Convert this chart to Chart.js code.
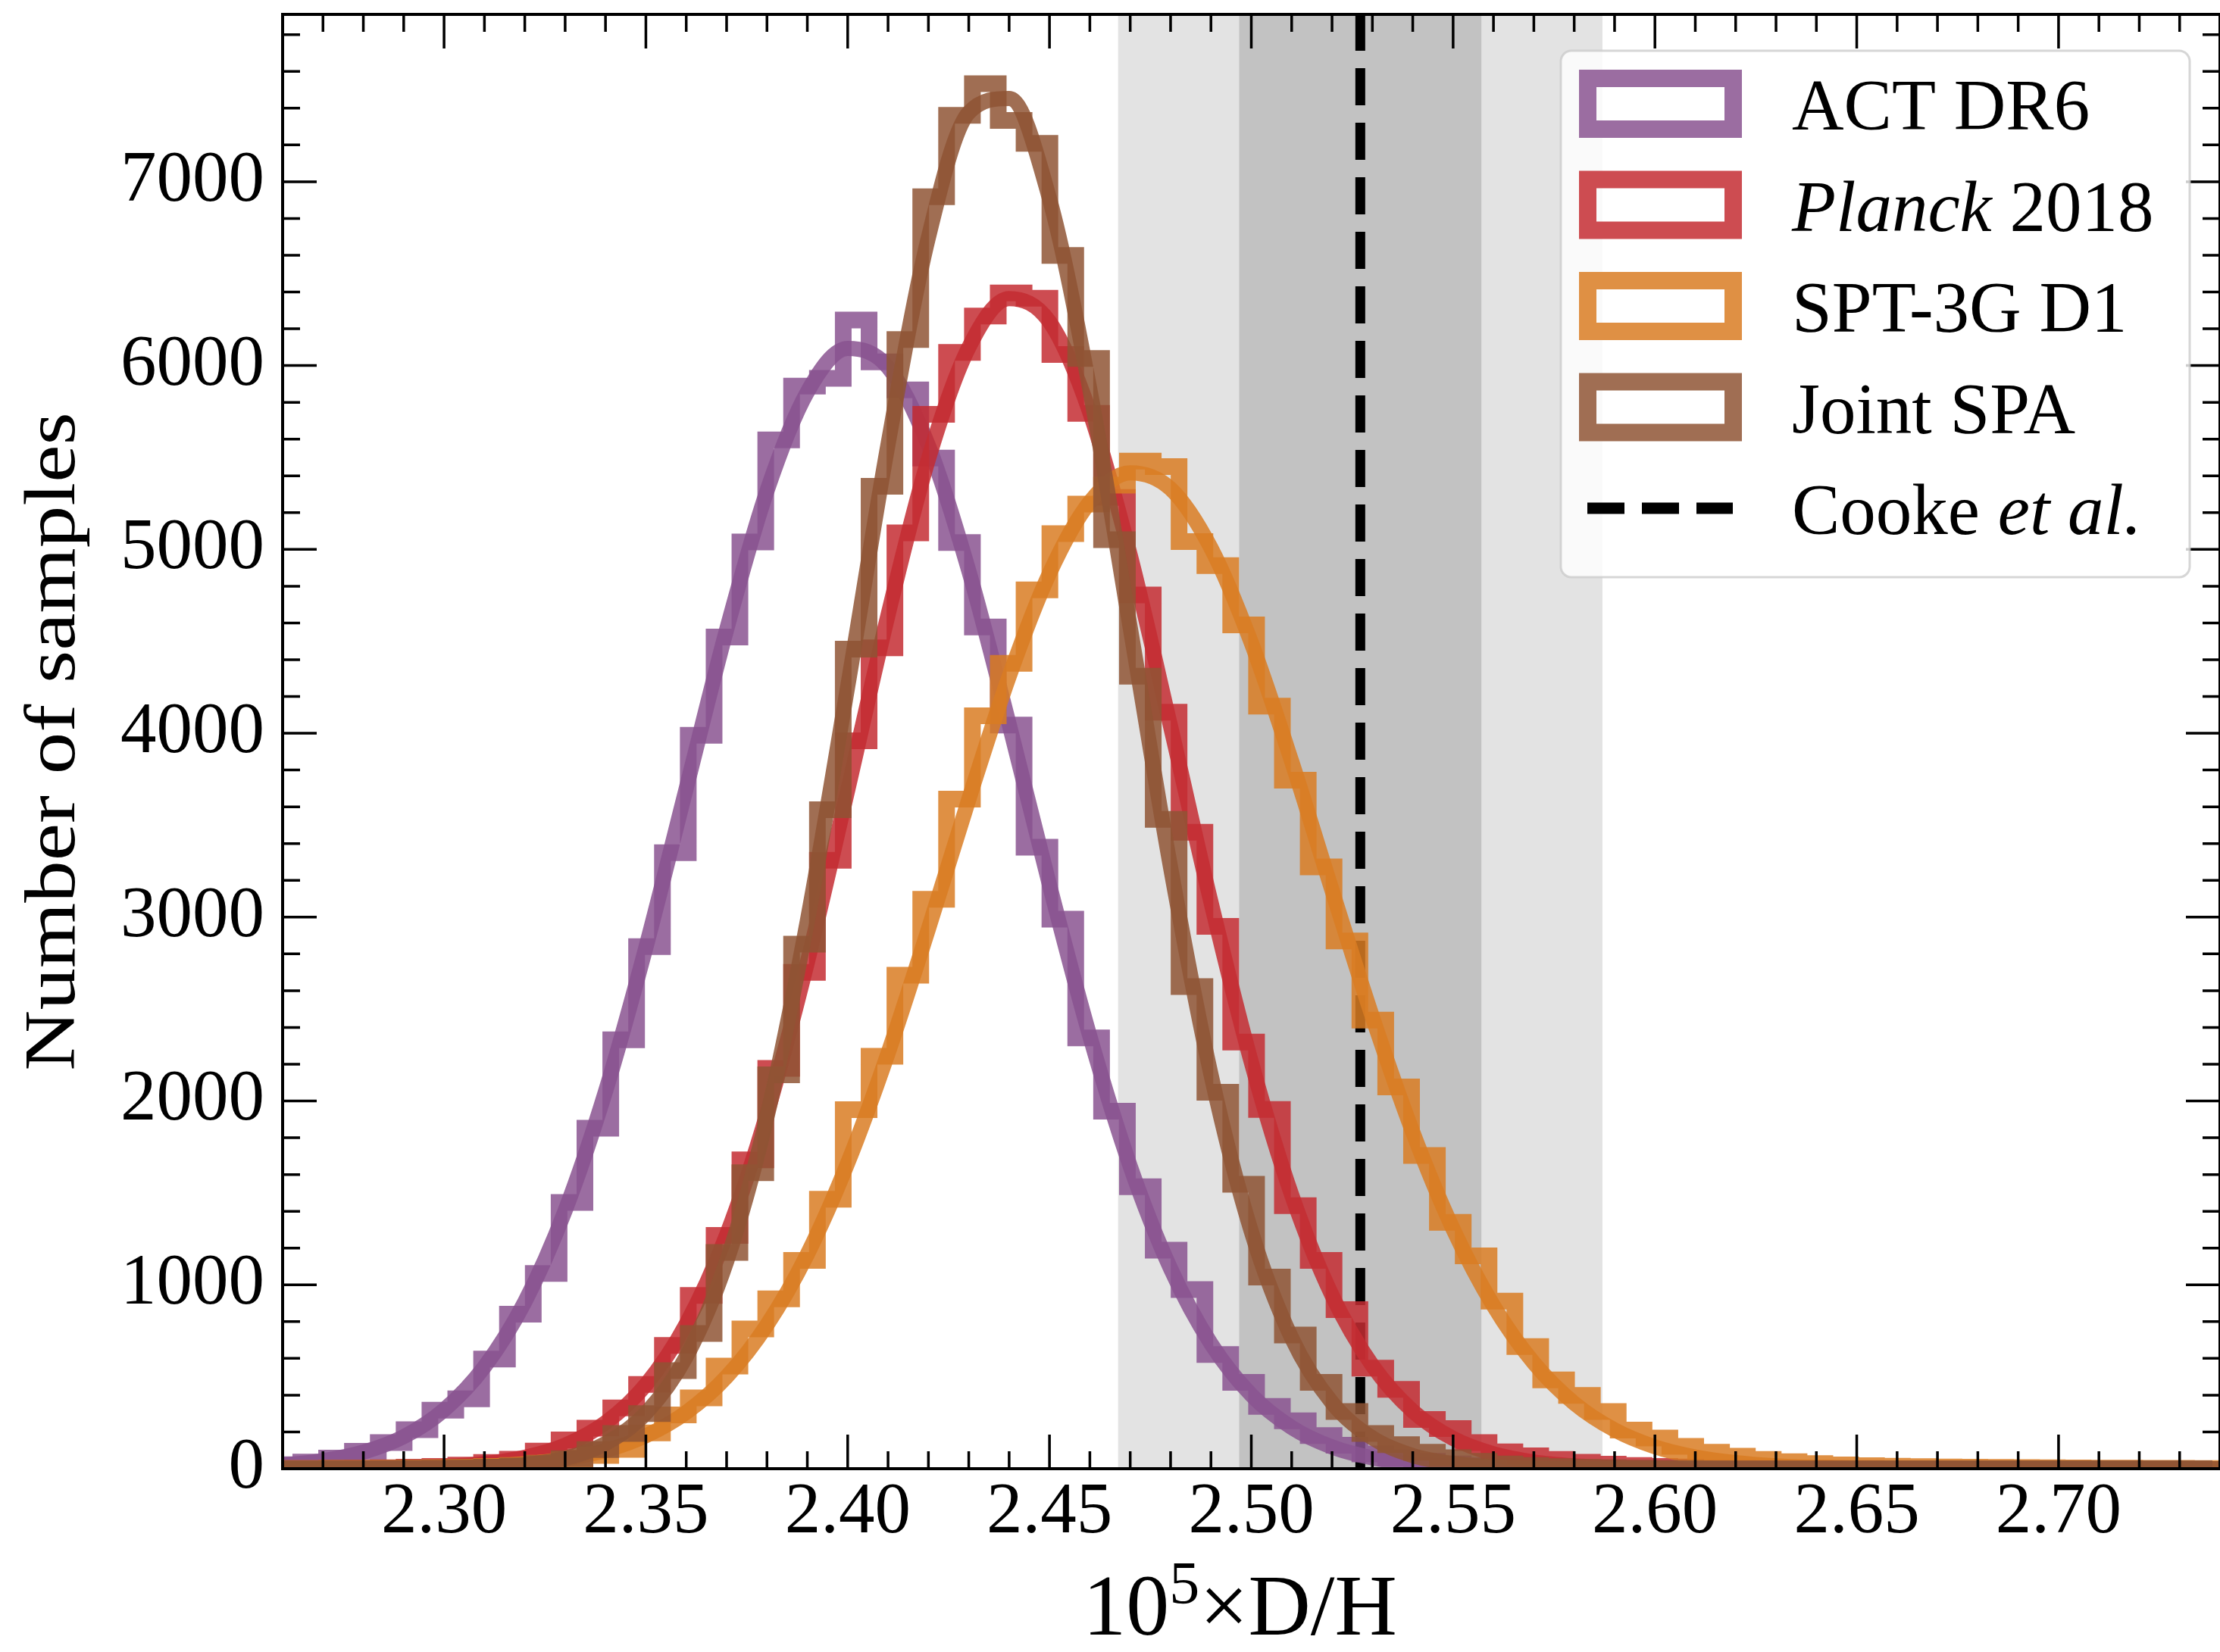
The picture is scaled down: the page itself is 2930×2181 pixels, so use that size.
<!DOCTYPE html>
<html>
<head>
<meta charset="utf-8">
<script src="https://cdn.jsdelivr.net/npm/chart.js@4.4.1/dist/chart.umd.min.js"></script>
<style>
  html, body { margin: 0; padding: 0; background: #fff; }
  #wrap { width: 2930px; height: 2181px; position: relative; }
</style>
</head>
<body>
<div id="wrap"><canvas id="dh"></canvas></div>
<script>
// D/H posteriors, step histograms (all chains share the same bins)
var binStart = 2.2581;
var binWidth = 0.0064;

var actCounts = [22, 36, 58, 95, 142, 212, 318, 380, 596, 840, 1062, 1448, 1852, 2333, 2840, 3350, 3989, 4524, 5041, 5596,
  5888, 5930, 6248, 6020, 5868, 5497, 5037, 4578, 4045, 3380, 2989, 2343, 1945, 1534, 1189, 974, 621, 470, 339, 261,
  180, 128, 80, 58, 40, 26, 16, 10, 7, 4, 3, 2, 1, 1, 1, 0, 0, 0, 0, 0,
  0, 0, 0, 0, 0, 0, 0, 0, 0, 0, 0, 0, 0, 0, 0];
var planckCounts = [1, 1, 2, 3, 5, 8, 12, 20, 34, 52, 96, 157, 220, 331, 458, 671, 942, 1269, 1680, 2177,
  2700, 3309, 3959, 4465, 5090, 5735, 6072, 6269, 6395, 6366, 6060, 5740, 5283, 4752, 4115, 3462, 2950, 2320, 1954, 1431,
  1133, 865, 547, 432, 268, 218, 142, 92, 70, 50, 35, 25, 18, 12, 9, 6, 4, 3, 2, 2,
  1, 1, 0, 0, 0, 0, 0, 0, 0, 0, 0, 0, 0, 0, 0];
var sptCounts = [1, 1, 2, 2, 3, 4, 6, 8, 12, 18, 30, 48, 72, 105, 195, 292, 385, 558, 760, 924,
  1133, 1466, 1953, 2243, 2684, 3097, 3642, 4095, 4380, 4780, 5086, 5247, 5350, 5480, 5450, 5043, 4912, 4589, 4148, 3745,
  3273, 2870, 2440, 2076, 1704, 1340, 1158, 911, 664, 483, 399, 311, 210, 167, 122, 90, 68, 50, 38, 28,
  21, 16, 13, 11, 9, 8, 7, 6, 5, 4, 3, 3, 2, 2, 1];
var jointCounts = [0, 0, 1, 1, 1, 2, 3, 5, 8, 14, 28, 55, 104, 192, 300, 533, 735, 1176, 1610, 2142,
  2853, 3584, 4458, 5343, 6142, 6918, 7361, 7533, 7333, 7209, 6599, 6039, 5053, 4310, 3532, 2622, 2048, 1547, 1042, 727,
  470, 311, 192, 131, 90, 60, 40, 26, 17, 11, 7, 5, 3, 2, 1, 0, 0, 0, 0, 0,
  0, 0, 0, 0, 0, 0, 0, 0, 0, 0, 0, 0, 0, 0, 0];

// smooth curves drawn over each histogram
var curveX = [2.26, 2.27, 2.28, 2.29, 2.30, 2.31, 2.32, 2.33, 2.34, 2.35, 2.36, 2.37, 2.38, 2.39, 2.40, 2.41, 2.42,
  2.43, 2.44, 2.45, 2.46, 2.47, 2.48, 2.49, 2.50, 2.51, 2.52, 2.53, 2.54, 2.55, 2.56, 2.57, 2.58, 2.59, 2.60, 2.61,
  2.62, 2.63, 2.64, 2.65, 2.66, 2.67, 2.68, 2.69, 2.70, 2.71, 2.72, 2.73, 2.74];
var actCurve = [20, 44, 90, 174, 320, 554, 907, 1404, 2052, 2835, 3700, 4563, 5318, 5856, 6093, 5991, 5565,
  4884, 4050, 3175, 2352, 1645, 1088, 680, 401, 224, 118, 59, 28, 12, 5, 2, 1, 0, 0, 0,
  0, 0, 0, 0, 0, 0, 0, 0, 0, 0, 0, 0, 0];
var planckCurve = [0, 1, 2, 5, 12, 28, 62, 128, 250, 457, 787, 1272, 1931, 2754, 3690, 4644, 5491,
  6098, 6364, 6238, 5744, 4968, 4037, 3082, 2211, 1489, 942, 561, 313, 164, 81, 37, 16, 7, 3, 1,
  0, 0, 0, 0, 0, 0, 0, 0, 0, 0, 0, 0, 0];
var sptCurve = [0, 1, 1, 3, 6, 13, 27, 53, 99, 179, 306, 500, 782, 1166, 1662, 2260, 2935,
  3640, 4309, 4870, 5258, 5417, 5330, 5008, 4492, 3847, 3146, 2457, 1831, 1303, 886, 575, 356, 211, 119, 64,
  33, 16, 8, 4, 2, 1, 0, 0, 0, 0, 0, 0, 0];
var jointCurve = [0, 0, 0, 1, 2, 8, 22, 57, 137, 302, 609, 1127, 1913, 2979, 4254, 5572, 6697,
  7376, 7453, 6907, 5870, 4575, 3270, 2145, 1290, 711, 359, 167, 71, 28, 10, 3, 1, 0, 0, 0,
  0, 0, 0, 0, 0, 0, 0, 0, 0, 0, 0, 0, 0];

var xTicks = [2.30, 2.35, 2.40, 2.45, 2.50, 2.55, 2.60, 2.65, 2.70];
var yTicks = [0, 1000, 2000, 3000, 4000, 5000, 6000, 7000];

// Cooke et al. measurement, 1 and 2 sigma bands
var cookeMean = 2.527;
var cookeSigma = 0.030;

var xMin = 2.26, xMax = 2.74, yMax = 7910;

var colAct = 'rgba(137, 84, 145, 0.85)';
var colPlanck = 'rgba(196, 45, 51, 0.85)';
var colSpt = 'rgba(217, 124, 35, 0.85)';
var colJoint = 'rgba(143, 85, 53, 0.85)';

var FONT = '"Liberation Serif", "DejaVu Serif", serif';

function stepPoints(counts) {
  var pts = [{x: binStart, y: 0}];
  counts.forEach(function (c, k) { pts.push({x: binStart + k * binWidth, y: c}); });
  pts.push({x: binStart + counts.length * binWidth, y: 0});
  return pts;
}

function curvePoints(vals) {
  return curveX.map(function (x, i) { return {x: x, y: vals[i]}; });
}

function stepSet(label, counts, color, order) {
  return {
    label: label, data: stepPoints(counts), borderColor: color, borderWidth: 22,
    stepped: true, pointRadius: 0, fill: false, borderJoinStyle: 'miter', borderCapStyle: 'butt',
    clip: 0, order: order
  };
}

function curveSet(label, vals, color, order) {
  return {
    label: label, data: curvePoints(vals), borderColor: color, borderWidth: 20,
    cubicInterpolationMode: 'monotone', pointRadius: 0, fill: false, clip: 0, order: order
  };
}

var legendRows = [
  {color: colAct, parts: [['ACT DR6', false]]},
  {color: colPlanck, parts: [['Planck', true], [' 2018', false]]},
  {color: colSpt, parts: [['SPT-3G D1', false]]},
  {color: colJoint, parts: [['Joint SPA', false]]},
  {dashed: true, parts: [['Cooke ', false], ['et al.', true]]}
];

function roundRectPath(ctx, x, y, w, h, r) {
  ctx.beginPath();
  ctx.moveTo(x + r, y);
  ctx.lineTo(x + w - r, y);
  ctx.arcTo(x + w, y, x + w, y + r, r);
  ctx.lineTo(x + w, y + h - r);
  ctx.arcTo(x + w, y + h, x + w - r, y + h, r);
  ctx.lineTo(x + r, y + h);
  ctx.arcTo(x, y + h, x, y + h - r, r);
  ctx.lineTo(x, y + r);
  ctx.arcTo(x, y, x + r, y, r);
  ctx.closePath();
}

var decorations = {
  id: 'decorations',
  beforeDatasetsDraw: function (chart) {
    var ctx = chart.ctx, a = chart.chartArea, xs = chart.scales.x;
    ctx.save();
    ctx.beginPath();
    ctx.rect(a.left, a.top, a.right - a.left, a.bottom - a.top);
    ctx.clip();
    var l2 = xs.getPixelForValue(cookeMean - 2 * cookeSigma);
    var r2 = xs.getPixelForValue(cookeMean + 2 * cookeSigma);
    ctx.fillStyle = '#e3e3e3';
    ctx.fillRect(l2, a.top, r2 - l2, a.bottom - a.top);
    var l1 = xs.getPixelForValue(cookeMean - cookeSigma);
    var r1 = xs.getPixelForValue(cookeMean + cookeSigma);
    ctx.fillStyle = '#c2c2c2';
    ctx.fillRect(l1, a.top, r1 - l1, a.bottom - a.top);
    ctx.restore();
  },
  afterDatasetsDraw: function (chart) {
    var ctx = chart.ctx, a = chart.chartArea, xs = chart.scales.x, ys = chart.scales.y;
    ctx.save();
    ctx.strokeStyle = '#000';
    ctx.lineWidth = 3.5;
    ctx.beginPath();
    for (var i = 226; i <= 274; i++) {
      var px = xs.getPixelForValue(i / 100);
      var len = (i % 5 === 0) ? 45 : 23;
      ctx.moveTo(px, a.bottom); ctx.lineTo(px, a.bottom - len);
      ctx.moveTo(px, a.top); ctx.lineTo(px, a.top + len);
    }
    for (var j = 0; j <= 7800; j += 200) {
      var py = ys.getPixelForValue(j);
      var ln = (j % 1000 === 0) ? 45 : 23;
      ctx.moveTo(a.left, py); ctx.lineTo(a.left + ln, py);
      ctx.moveTo(a.right, py); ctx.lineTo(a.right - ln, py);
    }
    ctx.stroke();
    ctx.lineWidth = 4;
    ctx.strokeRect(a.left, a.top, a.right - a.left, a.bottom - a.top);
    ctx.restore();
  },
  afterDraw: function (chart) {
    var ctx = chart.ctx, a = chart.chartArea;
    ctx.save();

    // legend
    roundRectPath(ctx, 2060, 67, 830, 695, 14);
    ctx.fillStyle = 'rgba(255,255,255,0.8)';
    ctx.fill();
    ctx.strokeStyle = 'rgba(204,204,204,0.8)';
    ctx.lineWidth = 3;
    ctx.stroke();

    legendRows.forEach(function (row, i) {
      var cy = 137 + i * 133.5;
      if (row.dashed) {
        ctx.save();
        ctx.strokeStyle = '#000';
        ctx.lineWidth = 15;
        ctx.setLineDash([49, 23]);
        ctx.beginPath();
        ctx.moveTo(2095, cy);
        ctx.lineTo(2287, cy);
        ctx.stroke();
        ctx.restore();
      } else {
        ctx.strokeStyle = row.color;
        ctx.lineWidth = 23;
        ctx.lineJoin = 'miter';
        ctx.strokeRect(2095.5, cy - 33.5, 192, 67);
      }
      var tx = 2365;
      ctx.fillStyle = '#000';
      ctx.textBaseline = 'alphabetic';
      ctx.textAlign = 'left';
      row.parts.forEach(function (p) {
        ctx.font = (p[1] ? 'italic ' : '') + '95px ' + FONT;
        ctx.fillText(p[0], tx, cy + 34);
        tx += ctx.measureText(p[0]).width;
      });
    });

    // x title: 10^5 x D/H
    ctx.fillStyle = '#000';
    ctx.textBaseline = 'alphabetic';
    ctx.textAlign = 'left';
    var big = '114px ' + FONT, small = '80px ' + FONT;
    ctx.font = big;
    var w1 = ctx.measureText('10').width, w3 = ctx.measureText('\u00d7D/H').width;
    ctx.font = small;
    var w2 = ctx.measureText('5').width;
    var x0 = (a.left + Math.min(a.right, chart.width)) / 2 - (w1 + w2 + w3) / 2 - 15;
    ctx.font = big;
    ctx.fillText('10', x0, 2158);
    ctx.font = small;
    ctx.fillText('5', x0 + w1, 2117);
    ctx.font = big;
    ctx.fillText('\u00d7D/H', x0 + w1 + w2, 2158);

    // y title
    ctx.save();
    ctx.translate(98, (a.top + a.bottom) / 2);
    ctx.rotate(-Math.PI / 2);
    ctx.scale(1, 0.85);
    ctx.font = '111px ' + FONT;
    ctx.textAlign = 'center';
    ctx.fillText('Number of samples', 0, 0);
    ctx.restore();

    ctx.restore();
  }
};

var ctx = document.getElementById('dh').getContext('2d');
var myChart = new Chart(ctx, {
  type: 'line',
  data: {
    datasets: [
      {
        label: 'Cooke et al.', data: [{x: cookeMean, y: 0}, {x: cookeMean, y: yMax}],
        borderColor: '#000', borderWidth: 13, borderDash: [49, 23], pointRadius: 0, fill: false,
        clip: 0, order: 20
      },
      stepSet('ACT DR6', actCounts, colAct, 8),
      curveSet('ACT DR6 fit', actCurve, colAct, 7),
      stepSet('Planck 2018', planckCounts, colPlanck, 6),
      curveSet('Planck 2018 fit', planckCurve, colPlanck, 5),
      stepSet('SPT-3G D1', sptCounts, colSpt, 4),
      curveSet('SPT-3G D1 fit', sptCurve, colSpt, 3),
      stepSet('Joint SPA', jointCounts, colJoint, 2),
      curveSet('Joint SPA fit', jointCurve, colJoint, 1)
    ]
  },
  options: {
    responsive: true,
    maintainAspectRatio: false,
    devicePixelRatio: 1,
    animation: false,
    events: [],
    layout: { padding: { top: 19, right: -6, bottom: 0, left: 0 } },
    plugins: { legend: { display: false }, tooltip: { enabled: false } },
    scales: {
      x: {
        type: 'linear', min: xMin, max: xMax,
        grid: { display: false, drawTicks: false },
        border: { display: false },
        afterBuildTicks: function (s) { s.ticks = xTicks.map(function (v) { return {value: v}; }); },
        afterFit: function (s) { s.height = 242; s.paddingLeft = 0; s.paddingRight = 0; },
        ticks: {
          padding: 2, color: '#000', maxRotation: 0, autoSkip: false,
          font: { family: FONT, size: 95 },
          callback: function (v) { return v.toFixed(2); }
        }
      },
      y: {
        type: 'linear', min: 0, max: yMax,
        grid: { display: false, drawTicks: false },
        border: { display: false },
        afterBuildTicks: function (s) { s.ticks = yTicks.map(function (v) { return {value: v}; }); },
        afterFit: function (s) { s.width = 373; s.paddingTop = 0; s.paddingBottom = 0; },
        ticks: {
          padding: 24, color: '#000', autoSkip: false,
          font: { family: FONT, size: 95 },
          callback: function (v) { return String(v); }
        }
      }
    }
  },
  plugins: [decorations]
});
</script>
</body>
</html>
